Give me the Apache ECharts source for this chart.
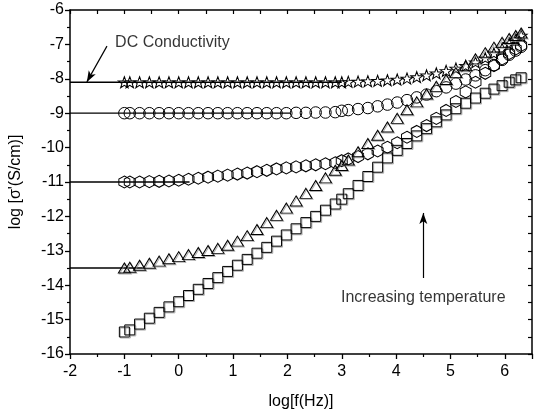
<!DOCTYPE html>
<html><head><meta charset="utf-8">
<script src="https://cdn.jsdelivr.net/npm/echarts@6/dist/echarts.min.js"></script>
<style>html,body{margin:0;padding:0;background:#fff}#c{width:537px;height:410px}</style>
</head><body><div id="c"></div>
<script>
const logF = [-1.0, -0.9, -0.72, -0.54, -0.36, -0.18, 0.0, 0.18, 0.36, 0.54, 0.72, 0.9, 1.08, 1.26, 1.44, 1.62, 1.8, 1.98, 2.16, 2.34, 2.52, 2.7, 2.88, 3.0, 3.12, 3.3, 3.48, 3.66, 3.84, 4.02, 4.2, 4.38, 4.56, 4.74, 4.92, 5.1, 5.28, 5.46, 5.64, 5.8, 5.95, 6.08, 6.2, 6.3];
const starVals = [-8.1,-8.1,-8.1,-8.1,-8.1,-8.1,-8.1,-8.1,-8.1,-8.1,-8.1,-8.1,-8.1,-8.1,-8.1,-8.1,-8.1,-8.1,-8.1,-8.1,-8.1,-8.1,-8.1,
  -8.1,-8.09,-8.08,-8.07,-8.06,-8.04,-8.02,-7.99,-7.95,-7.9,-7.84,-7.77,-7.7,-7.62,-7.52,-7.4,-7.26,-7.12,-6.98,-6.85,-6.74];
const circleVals = [-9,-9,-9,-9,-9,-9,-9,-9,-9,-9,-9,-9,-9,-9,-9,-9,-9,-9,-8.99,-8.99,-8.98,-8.98,-8.97,
  -8.93,-8.91,-8.88,-8.85,-8.8,-8.75,-8.69,-8.62,-8.54,-8.46,-8.36,-8.25,-8.14,-8.02,-7.9,-7.75,-7.6,-7.45,-7.3,-7.18,-7.07];
const hexVals = [-11.0,-11.0,-11.0,-10.99,-10.98,-10.97,-10.95,-10.92,-10.89,-10.86,-10.83,-10.8,-10.77,-10.74,-10.7,-10.66,-10.62,-10.59,-10.56,-10.53,-10.5,-10.47,-10.44,
  -10.38,-10.33,-10.26,-10.18,-10.1,-9.99,-9.86,-9.7,-9.53,-9.36,-9.15,-8.92,-8.66,-8.38,-8.1,-7.84,-7.62,-7.42,-7.26,-7.13,-7.03];
const triVals = [-13.5,-13.48,-13.42,-13.36,-13.3,-13.23,-13.17,-13.11,-13.05,-12.99,-12.93,-12.84,-12.72,-12.56,-12.38,-12.18,-11.97,-11.76,-11.55,-11.33,-11.1,-10.88,-10.66,
  -10.52,-10.36,-10.12,-9.88,-9.64,-9.4,-9.15,-8.9,-8.67,-8.44,-8.22,-8.02,-7.82,-7.62,-7.42,-7.24,-7.08,-6.94,-6.83,-6.74,-6.67];
const squareVals = [-15.36,-15.3,-15.13,-14.96,-14.79,-14.63,-14.48,-14.3,-14.12,-13.95,-13.78,-13.6,-13.42,-13.25,-13.07,-12.9,-12.72,-12.54,-12.36,-12.18,-12.0,-11.82,-11.64,
  -11.5,-11.34,-11.1,-10.84,-10.57,-10.3,-10.08,-9.88,-9.66,-9.45,-9.25,-9.05,-8.87,-8.71,-8.56,-8.42,-8.3,-8.2,-8.1,-8.03,-7.97];
const dcLevels = [-8.1, -9, -11, -13.5];
const dcLineEnds = [3.0, 2.05, 0.2, -0.66];
const annoTexts = ['DC Conductivity', 'Increasing temperature'];
const annoX = [-1.17, 4.5];
const annoY = [-6.96, -14.36];
const dcArrow = [[-1.32, -7.05], [-1.69, -8.09]];
const tempArrow = [[4.5, -13.79], [4.5, -11.9]];
const xTicks = {min: -2, max: 6.5, interval: 1};
const yTicks = {min: -16, max: -6, interval: 1};

const FONT = '"Liberation Sans", Arial, sans-serif';
const pair = v => logF.map((x, i) => [x, v[i]]);
const hexPath = 'path://M0,-10 L8.66,-5 L8.66,5 L0,10 L-8.66,5 L-8.66,-5 Z';
const starPath = 'path://M0,-10 L2.35,-3.24 L9.51,-3.09 L3.8,1.24 L5.88,8.09 L0,4 L-5.88,8.09 L-3.8,1.24 L-9.51,-3.09 L-2.35,-3.24 Z';
const mk = (name, vals, symbol, size, shadow) => ({
  type: 'scatter', name, data: pair(vals), symbol, symbolSize: size, z: 3,
  itemStyle: Object.assign({color: 'rgba(255,255,255,0)', borderColor: '#000', borderWidth: 1, opacity: 1},
    shadow ? {shadowColor: 'rgba(140,140,140,0.7)', shadowOffsetX: 1, shadowOffsetY: 1, shadowBlur: 0} : {})
});

const series = [];
dcLevels.forEach((lv, i) => series.push({
  type: 'line', data: [[-2, lv], [dcLineEnds[i], lv]], symbol: 'none', silent: true, z: 2,
  lineStyle: {color: '#000', width: 1.3}
}));
series.push(mk('stars', starVals, starPath, [12, 11], false));
series.push(mk('circles', circleVals, 'circle', 11.5, false));
series.push(mk('hex', hexVals, hexPath, [11, 12], false));
series.push(mk('tri', triVals, 'triangle', [12, 10], true));
series.push(mk('sq', squareVals, 'rect', 10, true));
series.push({
  type: 'scatter', symbolSize: 0, silent: true, z: 5,
  data: annoTexts.map((t, i) => ({value: [annoX[i], annoY[i]], name: t})),
  label: {show: true, formatter: p => p.name, color: '#000', fontFamily: FONT, fontSize: 16,
    textBorderWidth: 0, position: 'inside', align: 'center', verticalAlign: 'middle'},
  markLine: {
    silent: true, symbol: ['none', 'arrow'], symbolSize: [6, 11], label: {show: false},
    lineStyle: {color: '#000', width: 1.2, type: 'solid'},
    data: [
      [{coord: dcArrow[0]}, {coord: dcArrow[1]}],
      [{coord: tempArrow[0]}, {coord: tempArrow[1]}]
    ]
  }
});
series[series.length - 1].data[0].label = {align: 'left'};

const axisLine = {show: true, onZero: false, lineStyle: {color: '#000', width: 1.5}};
const chart = echarts.init(document.getElementById('c'), null, {renderer: 'canvas'});
chart.setOption({
  backgroundColor: '#fff',
  animation: false,
  grid: {left: 70, top: 10, right: 5, bottom: 56, containLabel: false, outerBoundsMode: 'none'},
  xAxis: [{
    type: 'value', position: 'bottom', min: xTicks.min, max: xTicks.max, interval: xTicks.interval,
    name: 'log[f(Hz)]', nameLocation: 'middle', nameGap: 40,
    nameTextStyle: {color: '#000', fontFamily: FONT, fontSize: 16},
    axisLine, splitLine: {show: false},
    axisTick: {show: true, inside: false, length: 5, lineStyle: {color: '#000', width: 1.3}},
    minorTick: {show: true, splitNumber: 2, length: 3, lineStyle: {color: '#000', width: 1.2}},
    axisLabel: {color: '#000', fontFamily: FONT, fontSize: 16, margin: 10, showMaxLabel: false}
  }, {
    type: 'value', position: 'top', min: xTicks.min, max: xTicks.max, interval: xTicks.interval,
    axisLine, splitLine: {show: false},
    axisTick: {show: true, inside: true, length: 4, lineStyle: {color: '#000', width: 1.2}},
    minorTick: {show: true, splitNumber: 2, length: 4, lineStyle: {color: '#000', width: 1.2}},
    axisLabel: {show: false}
  }],
  yAxis: [{
    type: 'value', position: 'left', min: yTicks.min, max: yTicks.max, interval: yTicks.interval,
    name: "log [σ'(S/cm)]", nameLocation: 'middle', nameGap: 46, nameRotate: 90,
    nameTextStyle: {color: '#000', fontFamily: FONT, fontSize: 16},
    axisLine, splitLine: {show: false},
    axisTick: {show: true, inside: false, length: 5, lineStyle: {color: '#000', width: 1.3}},
    minorTick: {show: true, splitNumber: 2, length: 3, lineStyle: {color: '#000', width: 1.2}},
    axisLabel: {color: '#000', fontFamily: FONT, fontSize: 16, margin: 6}
  }, {
    type: 'value', position: 'right', min: yTicks.min, max: yTicks.max, interval: yTicks.interval,
    axisLine, splitLine: {show: false},
    axisTick: {show: true, inside: true, length: 4, lineStyle: {color: '#000', width: 1.2}},
    minorTick: {show: true, splitNumber: 2, length: 4, lineStyle: {color: '#000', width: 1.2}},
    axisLabel: {show: false}
  }],
  series
});
</script>
</body></html>
